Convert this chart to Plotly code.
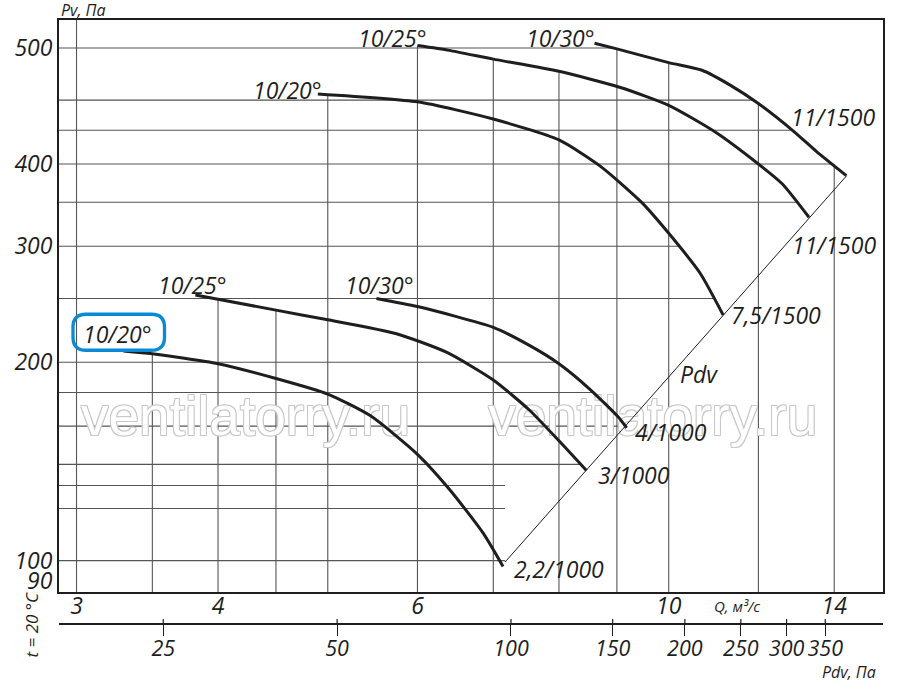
import numpy as np
import plotly.graph_objects as go

# Fan curves, Q in m3/s and Pv in Pa (blade angle, motor kW / rpm)
q_20_1000 = [3.3, 3.5, 4.0, 4.5, 5.0, 5.45, 6.0, 6.41, 6.86, 7.14]
pv_20_1000 = [208, 206, 199, 189, 179, 166, 145, 128, 110, 98]
q_25_1000 = [3.82, 4.5, 5.0, 5.75, 6.37, 7.0, 7.54, 8.0, 8.46]
pv_25_1000 = [253, 240, 232, 221, 207, 188, 169, 152, 137]
q_30_1000 = [5.52, 6.0, 7.0, 7.54, 8.0, 8.52, 9.03, 9.18]
pv_30_1000 = [250, 243, 226, 212, 199, 182, 165, 159]
q_20_1500 = [4.9, 6.0, 7.0, 8.0, 8.7, 9.46, 10.03, 10.66, 11.17]
pv_20_1500 = [511, 497, 468, 435, 397, 350, 312, 273, 236]
q_25_1500 = [6.0, 6.4, 7.0, 8.0, 9.05, 10.0, 11.0, 12.0, 12.6, 13.3]
pv_25_1500 = [605, 595, 577, 553, 523, 491, 447, 400, 373, 332]
q_30_1500 = [8.6, 9.0, 10.0, 10.7, 11.35, 12.0, 12.9, 13.5, 14.35]
pv_30_1500 = [610, 598, 570, 555, 526, 494, 448, 418, 384]

# dynamic pressure line through the curve ends
pdv_line_q = [7.17, 14.36]
pdv_line_pv = [99.5, 384]

# grid + ticks
q_grid = [3, 3.5, 4, 4.5, 5, 6, 7, 8, 9, 10, 12, 14]
pv_grid = [100, 120, 130, 140, 160, 180, 200, 250, 300, 350, 400, 450, 500, 600]
q_ticks = [3, 4, 6, 10, 14]
pv_tickvals = [600, 400, 300, 200, 100, 93]
pv_ticktext = ["500", "400", "300", "200", "100", "90"]
pdv_ticks = [25, 50, 100, 150, 200, 250, 300, 350]

curve_labels = ["10/20°", "10/25°", "10/30°", "10/20°", "10/25°", "10/30°",
                "11/1500", "11/1500", "7,5/1500", "Pdv", "4/1000", "3/1000", "2,2/1000"]
label_q = [3.26, 3.80, 5.55, 4.61, 5.70, 8.03, 13.96, 14.0, 12.43, 10.63, 10.04, 9.32, 8.0]
label_pv = [221, 262, 262, 518, 622, 622, 471, 301, 236, 192, 157, 135, 97]

watermark = "ventilatorry.ru"
watermark_q = [4.23, 9.68]
watermark_pv = [162.7, 162.7]

W, H = 900, 684
L, R, T, B = 59, 17, 19.5, 60
x_rng = [2.895, 15.46]
y_rng = [89.6, 661.6]
pdv_rng = [16.5, 440.6]

curves = [(q_20_1000, pv_20_1000), (q_25_1000, pv_25_1000), (q_30_1000, pv_30_1000),
          (q_20_1500, pv_20_1500), (q_25_1500, pv_25_1500), (q_30_1500, pv_30_1500)]


def px(x):
    return (x - L) / (W - L - R)


def py(y):
    return (H - B - y) / (H - T - B)


def curve_at(q, cq, cpv):
    if cq[0] <= q <= cq[-1]:
        return 10 ** np.interp(np.log10(q), np.log10(cq), np.log10(cpv))
    return None


def cross_at(p, cq, cpv):
    if min(cpv) <= p <= max(cpv):
        return 10 ** np.interp(np.log10(p), np.log10(cpv[::-1]), np.log10(cq[::-1]))
    return None


ink = "#1e1e1e"
font = "Open Sans"
grey = "#c8c8c8"

fig = go.Figure()
# watermark first so the curves sit on top of it
fig.add_trace(go.Scatter(
    x=watermark_q, y=watermark_pv, mode="text", text=[watermark] * 2,
    textposition="middle center", hoverinfo="skip", showlegend=False,
    textfont=dict(family="Liberation Sans", size=55, color="white",
                  shadow=f"-1px -1px 0 {grey}, 1px -1px 0 {grey}, -1px 1px 0 {grey}, 1px 1px 0 {grey}")))
for cq, cpv in curves:
    fig.add_trace(go.Scatter(x=cq, y=cpv, mode="lines",
                             line=dict(color=ink, width=3, shape="spline", smoothing=0.6),
                             hoverinfo="skip", showlegend=False))
fig.add_trace(go.Scatter(x=pdv_line_q, y=pdv_line_pv, mode="lines",
                         line=dict(color=ink, width=1), hoverinfo="skip", showlegend=False))
# carrier for the Pdv axis
fig.add_trace(go.Scatter(x=pdv_ticks, y=[None] * len(pdv_ticks), xaxis="x2", mode="markers",
                         hoverinfo="skip", showlegend=False))

# grid: vertical lines start at the upper curve, horizontal ones stop at the right one
shapes = []
for q in q_grid:
    tops = [v for v in (curve_at(q, cq, cpv) for cq, cpv in curves) if v is not None]
    top = max(tops) if tops else y_rng[1]
    shapes.append(dict(type="line", xref="x", yref="y", x0=q, x1=q, y0=y_rng[0], y1=top,
                       line=dict(color="#555", width=1.1), layer="below"))
for p in pv_grid:
    ends = [v for v in (cross_at(p, cq, cpv) for cq, cpv in curves + [(pdv_line_q, pdv_line_pv)])
            if v is not None]
    end = max(ends) if ends else x_rng[1]
    shapes.append(dict(type="line", xref="x", yref="y", x0=x_rng[0], x1=end, y0=p, y1=p,
                       line=dict(color="#555", width=1.1), layer="below"))

# Pdv ticks poke a little above their axis line
for t in pdv_ticks:
    shapes.append(dict(type="line", xref="x2", yref="paper", x0=t, x1=t, y0=py(624), y1=py(619),
                       line=dict(color=ink, width=1.2)))

# blue highlight round the lower 10/20° label
bx0, bx1, by0, by1, r = 73, 164.5, 314, 350, 13
path = (f"M {px(bx0 + r)},{py(by0)} L {px(bx1 - r)},{py(by0)} "
        f"Q {px(bx1)},{py(by0)} {px(bx1)},{py(by0 + r)} L {px(bx1)},{py(by1 - r)} "
        f"Q {px(bx1)},{py(by1)} {px(bx1 - r)},{py(by1)} L {px(bx0 + r)},{py(by1)} "
        f"Q {px(bx0)},{py(by1)} {px(bx0)},{py(by1 - r)} L {px(bx0)},{py(by0 + r)} "
        f"Q {px(bx0)},{py(by0)} {px(bx0 + r)},{py(by0)} Z")
shapes.append(dict(type="path", xref="paper", yref="paper", path=path,
                   line=dict(color="#0a8ad6", width=3.3)))

ann = []
for txt, lq, lp in zip(curve_labels, label_q, label_pv):
    ann.append(dict(x=np.log10(lq), y=np.log10(lp), xref="x", yref="y", text=txt,
                    showarrow=False, xanchor="center", yanchor="middle",
                    font=dict(family=font, size=23, style="italic", color=ink)))

small = dict(family=font, style="italic", color=ink)
for txt, x, y, size, angle in [("Pv, Па", 83, 9, 16, 0), ("Q, м³/с", 737, 606, 15, 0),
                               ("Pdv, Па", 849, 672, 16, 0), ("t = 20 °C", 31.5, 625, 17, -90)]:
    ann.append(dict(x=px(x), y=py(y), xref="paper", yref="paper", text=txt, showarrow=False,
                    xanchor="center", yanchor="middle", textangle=angle,
                    font=dict(small, size=size)))

tick_font = dict(family=font, size=23, style="italic", color=ink)
fig.update_layout(
    width=W, height=H, margin=dict(l=L, r=R, t=T, b=B, pad=0),
    paper_bgcolor="white", plot_bgcolor="white",
    xaxis=dict(type="log", range=[np.log10(x_rng[0]), np.log10(x_rng[1])], showgrid=False,
               zeroline=False, showline=True, mirror=True, linecolor=ink, linewidth=2,
               tickvals=q_ticks, ticktext=[str(v) for v in q_ticks], ticks="",
               ticklabelstandoff=-8, tickfont=tick_font, anchor="y"),
    yaxis=dict(type="log", range=[np.log10(y_rng[0]), np.log10(y_rng[1])],
               domain=[32 / (H - T - B), 1], showgrid=False, zeroline=False, showline=True,
               mirror=True, linecolor=ink, linewidth=2, tickvals=pv_tickvals,
               ticktext=pv_ticktext, ticks="", tickfont=tick_font),
    xaxis2=dict(type="log", range=[np.log10(pdv_rng[0]), np.log10(pdv_rng[1])],
                overlaying="x", anchor="free", position=0, side="bottom", showgrid=False,
                zeroline=False, showline=True, linecolor=ink, linewidth=2, ticks="outside",
                ticklen=11, tickwidth=1.2, tickcolor=ink, tickvals=pdv_ticks, tickangle=0,
                ticklabelstandoff=-6,
                ticktext=[str(v) for v in pdv_ticks], tickfont=dict(tick_font, size=21.5)),
    shapes=shapes, annotations=ann,
)

fig.write_html("out.html", config={"displayModeBar": False},
               post_script="document.body.style.margin = '0';")
